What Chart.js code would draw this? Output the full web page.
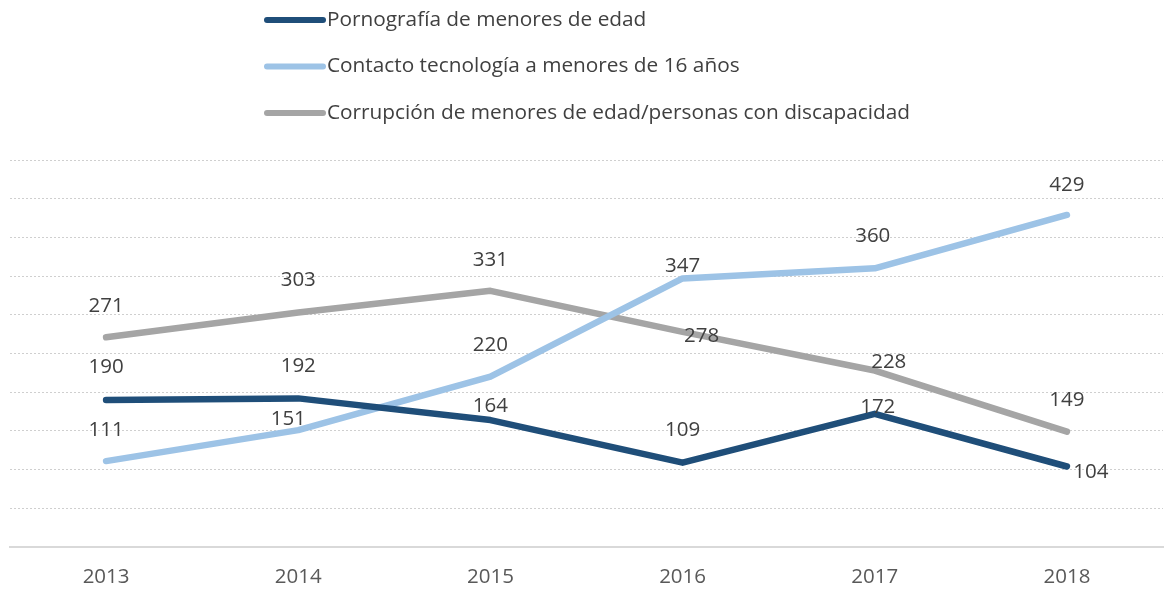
<!DOCTYPE html>
<html><head><meta charset="utf-8">
<script src="https://cdn.jsdelivr.net/npm/chart.js@4.4.1/dist/chart.umd.min.js"></script>
<style>html,body{margin:0;padding:0;background:#fff}#wrap{width:1165px;height:592px}</style>
</head><body><div id="wrap"><canvas id="c" width="1165" height="592"></canvas></div>
<script>
const years = ['2013','2014','2015','2016','2017','2018'];
const seriesNames = ['Pornografía de menores de edad','Contacto tecnología a menores de 16 años','Corrupción de menores de edad/personas con discapacidad'];
const pornografia = [190,192,164,109,172,104];
const contacto = [111,151,220,347,360,429];
const corrupcion = [271,303,331,278,228,149];
const yMin = 0, yMax = 500, yStep = 50;

const colors = ['#1F4E79','#9DC3E6','#A5A5A5'];
const FONT = '"Open Sans", "Noto Sans", sans-serif';
// label offsets (dx, dy) relative to point, default above
const labelOffsets = [
  [[0,-33],[0,-32],[0,-14],[0,-32],[3,-7],[24,6]],
  [[0,-31],[-10,-11],[0,-32],[0,-12],[-2,-32],[0,-30]],
  [[0,-31],[0,-32],[0,-31],[19,4],[14,-8],[0,-32]]
];

const labelPlugin = {
  id:'labels',
  afterDatasetsDraw(chart){
    const ctx = chart.ctx;
    ctx.save();
    ctx.font = '20.5px ' + FONT;
    ctx.fillStyle = '#404040';
    ctx.textAlign = 'center';
    ctx.textBaseline = 'middle';
    chart.data.datasets.forEach((ds,i)=>{
      const meta = chart.getDatasetMeta(i);
      meta.data.forEach((pt,j)=>{
        const o = labelOffsets[i][j];
        ctx.fillText(String(ds.data[j]), pt.x + o[0], pt.y + o[1]);
      });
    });
    ctx.restore();
  }
};
const legendPlugin = {
  id:'customLegend',
  afterDraw(chart){
    const ctx = chart.ctx;
    ctx.save();
    ctx.font = '20.8px ' + FONT;
    ctx.textBaseline = 'middle';
    chart.data.datasets.forEach((ds,i)=>{
      const y = 20 + i*46.5;
      ctx.strokeStyle = ds.borderColor;
      ctx.lineWidth = 6;
      ctx.lineCap = 'round';
      ctx.beginPath(); ctx.moveTo(267,y); ctx.lineTo(323,y); ctx.stroke();
      ctx.fillStyle = '#404040';
      ctx.fillText(ds.label, 327, y);
    });
    ctx.restore();
  }
};

new Chart(document.getElementById('c'), {
  type:'line',
  data:{
    labels: years,
    datasets:[
      {label:seriesNames[0], data:pornografia, borderColor:colors[0], backgroundColor:colors[0]},
      {label:seriesNames[1], data:contacto, borderColor:colors[1], backgroundColor:colors[1]},
      {label:seriesNames[2], data:corrupcion, borderColor:colors[2], backgroundColor:colors[2]}
    ].map(d=>Object.assign(d,{borderWidth:6.5, pointRadius:0, tension:0, borderCapStyle:'round', borderJoinStyle:'round', fill:false}))
  },
  options:{
    responsive:false, animation:false, devicePixelRatio:1,
    layout:{padding:{top:160, left:10, right:2, bottom:0}},
    plugins:{legend:{display:false}, tooltip:{enabled:false}},
    scales:{
      x:{
        offset:true,
        grid:{display:false, drawTicks:false},
        border:{display:true, color:'#d9d9d9', width:2},
        ticks:{color:'#595959', font:{family:FONT, size:20.5}, padding:18, maxRotation:0},
        afterFit(s){ s.height = 45; }
      },
      y:{
        min:yMin, max:yMax,
        ticks:{display:false, stepSize:yStep, padding:0},
        border:{display:false, dash:[2,2]},
        grid:{color:(c)=> c.tick && c.tick.value===0 ? 'rgba(0,0,0,0)' : '#cfcfcf', lineWidth:1, drawTicks:false},
        afterFit(s){ s.width = 0; }
      }
    }
  },
  plugins:[labelPlugin, legendPlugin]
});
</script></body></html>
